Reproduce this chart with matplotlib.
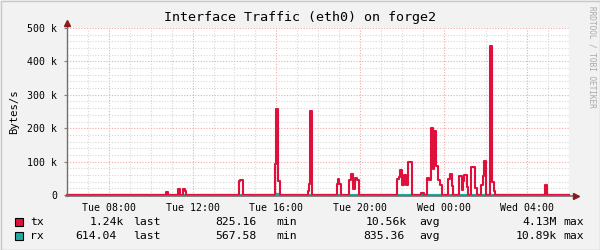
import matplotlib
matplotlib.use("Agg")
import matplotlib.pyplot as plt
from matplotlib.lines import Line2D
from matplotlib.patches import Rectangle
import numpy as np

# ---------------- data ----------------
title = "Interface Traffic (eth0) on forge2"
y_label = "Bytes/s"
x_tick_hours = [8, 12, 16, 20, 24, 28]
x_tick_labels = ["Tue 08:00", "Tue 12:00", "Tue 16:00", "Tue 20:00", "Wed 00:00", "Wed 04:00"]
y_tick_values = [0, 100000, 200000, 300000, 400000, 500000]
y_tick_labels = ["0", "100 k", "200 k", "300 k", "400 k", "500 k"]

# tx: step breakpoints (hours since Tue 00:00) and values (kBytes/s)
tx_hours = [6.00, 10.73, 10.83, 11.30, 11.40, 11.54, 11.64, 11.69,
            14.22, 14.27, 14.41,
            15.94, 15.99, 16.08, 16.18,
            17.51, 17.56, 17.63, 17.73,
            18.90, 18.95, 19.02, 19.09,
            19.47, 19.57, 19.66, 19.76, 19.85, 19.95,
            21.77, 21.86, 21.93, 22.03, 22.10, 22.20, 22.29, 22.48,
            22.91, 23.06,
            23.20, 23.30, 23.39, 23.49, 23.53, 23.63, 23.73, 23.82, 23.94,
            24.20, 24.30, 24.39, 24.44,
            24.73, 24.87, 24.92, 24.97, 25.11, 25.18,
            25.30, 25.49, 25.59,
            25.78, 25.88, 25.92, 26.02,
            26.21, 26.31, 26.40, 26.47,
            28.84, 28.93, 30.00]
tx_kbps = [1.0, 9, 1.0, 18, 1.0, 18, 12, 1.0,
           42, 45, 1.0,
           93, 257, 42, 1.0,
           13, 33, 251, 1.0,
           33, 48, 33, 1.0,
           45, 63, 18, 51, 45, 1.0,
           48, 54, 75, 30, 60, 30, 99, 1.0,
           6, 1.0,
           51, 45, 200, 78, 192, 87, 45, 30, 1.0,
           48, 63, 27, 1.0,
           57, 15, 42, 60, 24, 1.0,
           84, 21, 1.0,
           30, 57, 102, 1.0,
           446, 39, 12, 1.0,
           30, 1.0, 1.0]

# rx: step breakpoints and values (kBytes/s)
rx_hours = [6.00, 14.22, 14.41, 15.94, 16.18, 17.56, 17.73, 19.47, 19.95,
            21.77, 22.48, 23.20, 23.94, 24.20, 24.44, 24.73, 25.18,
            25.30, 25.59, 25.78, 26.02, 26.21, 26.47, 30.00]
rx_kbps = [0.6, 1.2, 0.6, 1.5, 0.6, 1.2, 0.6, 1.0, 0.6,
           1.2, 0.6, 1.3, 0.6, 1.0, 0.6, 1.0, 0.6,
           1.0, 0.6, 1.0, 0.6, 1.3, 0.6, 0.6]

series_names = ["tx", "rx"]
series_colors = ["#E0103C", "#22AAA2"]
stat_last = ["1.24k", "614.04"]
stat_min = ["825.16", "567.58"]
stat_avg = ["10.56k", "835.36"]
stat_max = ["4.13M", "10.89k"]

# ---------------- figure ----------------
W, H = 600, 250
fig = plt.figure(figsize=(6, 2.5), dpi=100, facecolor="#F2F2F2")

x0, x1 = 67, 569.3
y_top, y_bot = 28, 195
ax = fig.add_axes([x0 / W, 1 - y_bot / H, (x1 - x0) / W, (y_bot - y_top) / H])
ax.set_facecolor("white")
ax.set_xlim(6, 30)
ax.set_ylim(0, 500000)

mono = "DejaVu Sans Mono"

# grid
ax.set_xticks(x_tick_hours)
ax.set_xticks(np.arange(6, 31, 1), minor=True)
ax.set_yticks(y_tick_values)
ax.set_yticks(np.arange(0, 500001, 20000), minor=True)
ax.grid(which="minor", color="#D8D8D8", linestyle=(0, (1, 1.5)), linewidth=0.8, zorder=0)
ax.grid(which="major", color="#F0A8A8", linestyle=(0, (1, 1.5)), linewidth=0.8, zorder=0)
ax.set_axisbelow(True)

ax.set_xticklabels(x_tick_labels, fontfamily=mono, fontsize=7.1)
ax.set_yticklabels(y_tick_labels, fontfamily=mono, fontsize=7.1)
ax.tick_params(which="both", length=0, pad=4)
ax.tick_params(axis="x", pad=6)
ax.tick_params(axis="y", which="major", length=2, color="#808080", pad=5)

for s in ax.spines.values():
    s.set_visible(False)

# data lines
rx_t = np.array(rx_hours)
rx_v = np.array(rx_kbps) * 1000
tx_t = np.array(tx_hours)
tx_v = np.array(tx_kbps) * 1000
ax.step(rx_t, rx_v, where="post", color=series_colors[1], linewidth=1.6, zorder=3, clip_on=False)
ax.step(tx_t, tx_v, where="post", color=series_colors[0], linewidth=1.5, zorder=4, clip_on=False)

# axis lines with arrows (figure pixel coords)
def fx(p):
    return p / W

def fy(p):
    return 1 - p / H

fig.add_artist(Line2D([fx(67), fx(67)], [fy(196), fy(24)], color="#707070", linewidth=1.0))
fig.add_artist(Line2D([fx(66), fx(574)], [fy(196), fy(196)], color="#707070", linewidth=1.2))
fig.add_artist(Line2D([fx(67)], [fy(23)], marker="^", markersize=4.5, color="#8B1A1A", linestyle="none"))
fig.add_artist(Line2D([fx(576)], [fy(196)], marker=">", markersize=4.5, color="#8B1A1A", linestyle="none"))

# title and labels
fig.text(0.5, fy(18), title, ha="center", va="center", fontfamily=mono, fontsize=9.6, color="black")
fig.text(fx(14), fy(112), y_label, ha="center", va="center", rotation=90, fontfamily=mono, fontsize=7.6)
fig.text(fx(592), fy(6), "RRDTOOL / TOBI OETIKER", ha="center", va="top", rotation=270,
         fontfamily=mono, fontsize=5.6, color="#A8A8A8")

# legend (right edges of numbers, left edges of words, in pixels)
num_right_last = [124, 117]
num_right_min = 257
num_right_avg = [407, 404]
num_right_max = 557
word_x = {"last": 133, "min": 276, "avg": 419, "max": 563}
fs = 8.2
for i in range(2):
    yc = 222 + i * 14
    fig.add_artist(Rectangle((fx(15), fy(yc + 4)), 8 / W, 8 / H, facecolor=series_colors[i],
                             edgecolor="black", linewidth=0.8))
    fig.text(fx(30), fy(yc), series_names[i], ha="left", va="center", fontfamily=mono, fontsize=fs)
    fig.text(fx(num_right_last[i]), fy(yc), stat_last[i], ha="right", va="center", fontfamily=mono, fontsize=fs)
    fig.text(fx(word_x["last"]), fy(yc), "last", ha="left", va="center", fontfamily=mono, fontsize=fs)
    fig.text(fx(num_right_min), fy(yc), stat_min[i], ha="right", va="center", fontfamily=mono, fontsize=fs)
    fig.text(fx(word_x["min"]), fy(yc), "min", ha="left", va="center", fontfamily=mono, fontsize=fs)
    fig.text(fx(num_right_avg[i]), fy(yc), stat_avg[i], ha="right", va="center", fontfamily=mono, fontsize=fs)
    fig.text(fx(word_x["avg"]), fy(yc), "avg", ha="left", va="center", fontfamily=mono, fontsize=fs)
    fig.text(fx(num_right_max), fy(yc), stat_max[i], ha="right", va="center", fontfamily=mono, fontsize=fs)
    fig.text(fx(word_x["max"]), fy(yc), "max", ha="left", va="center", fontfamily=mono, fontsize=fs)

# border
fig.add_artist(Rectangle((0.5 / W, 0.5 / H), (W - 1) / W, (H - 1) / H, fill=False,
                         edgecolor="#C8C8C8", linewidth=1.0))

fig.savefig("out.png", dpi=100, facecolor=fig.get_facecolor())
